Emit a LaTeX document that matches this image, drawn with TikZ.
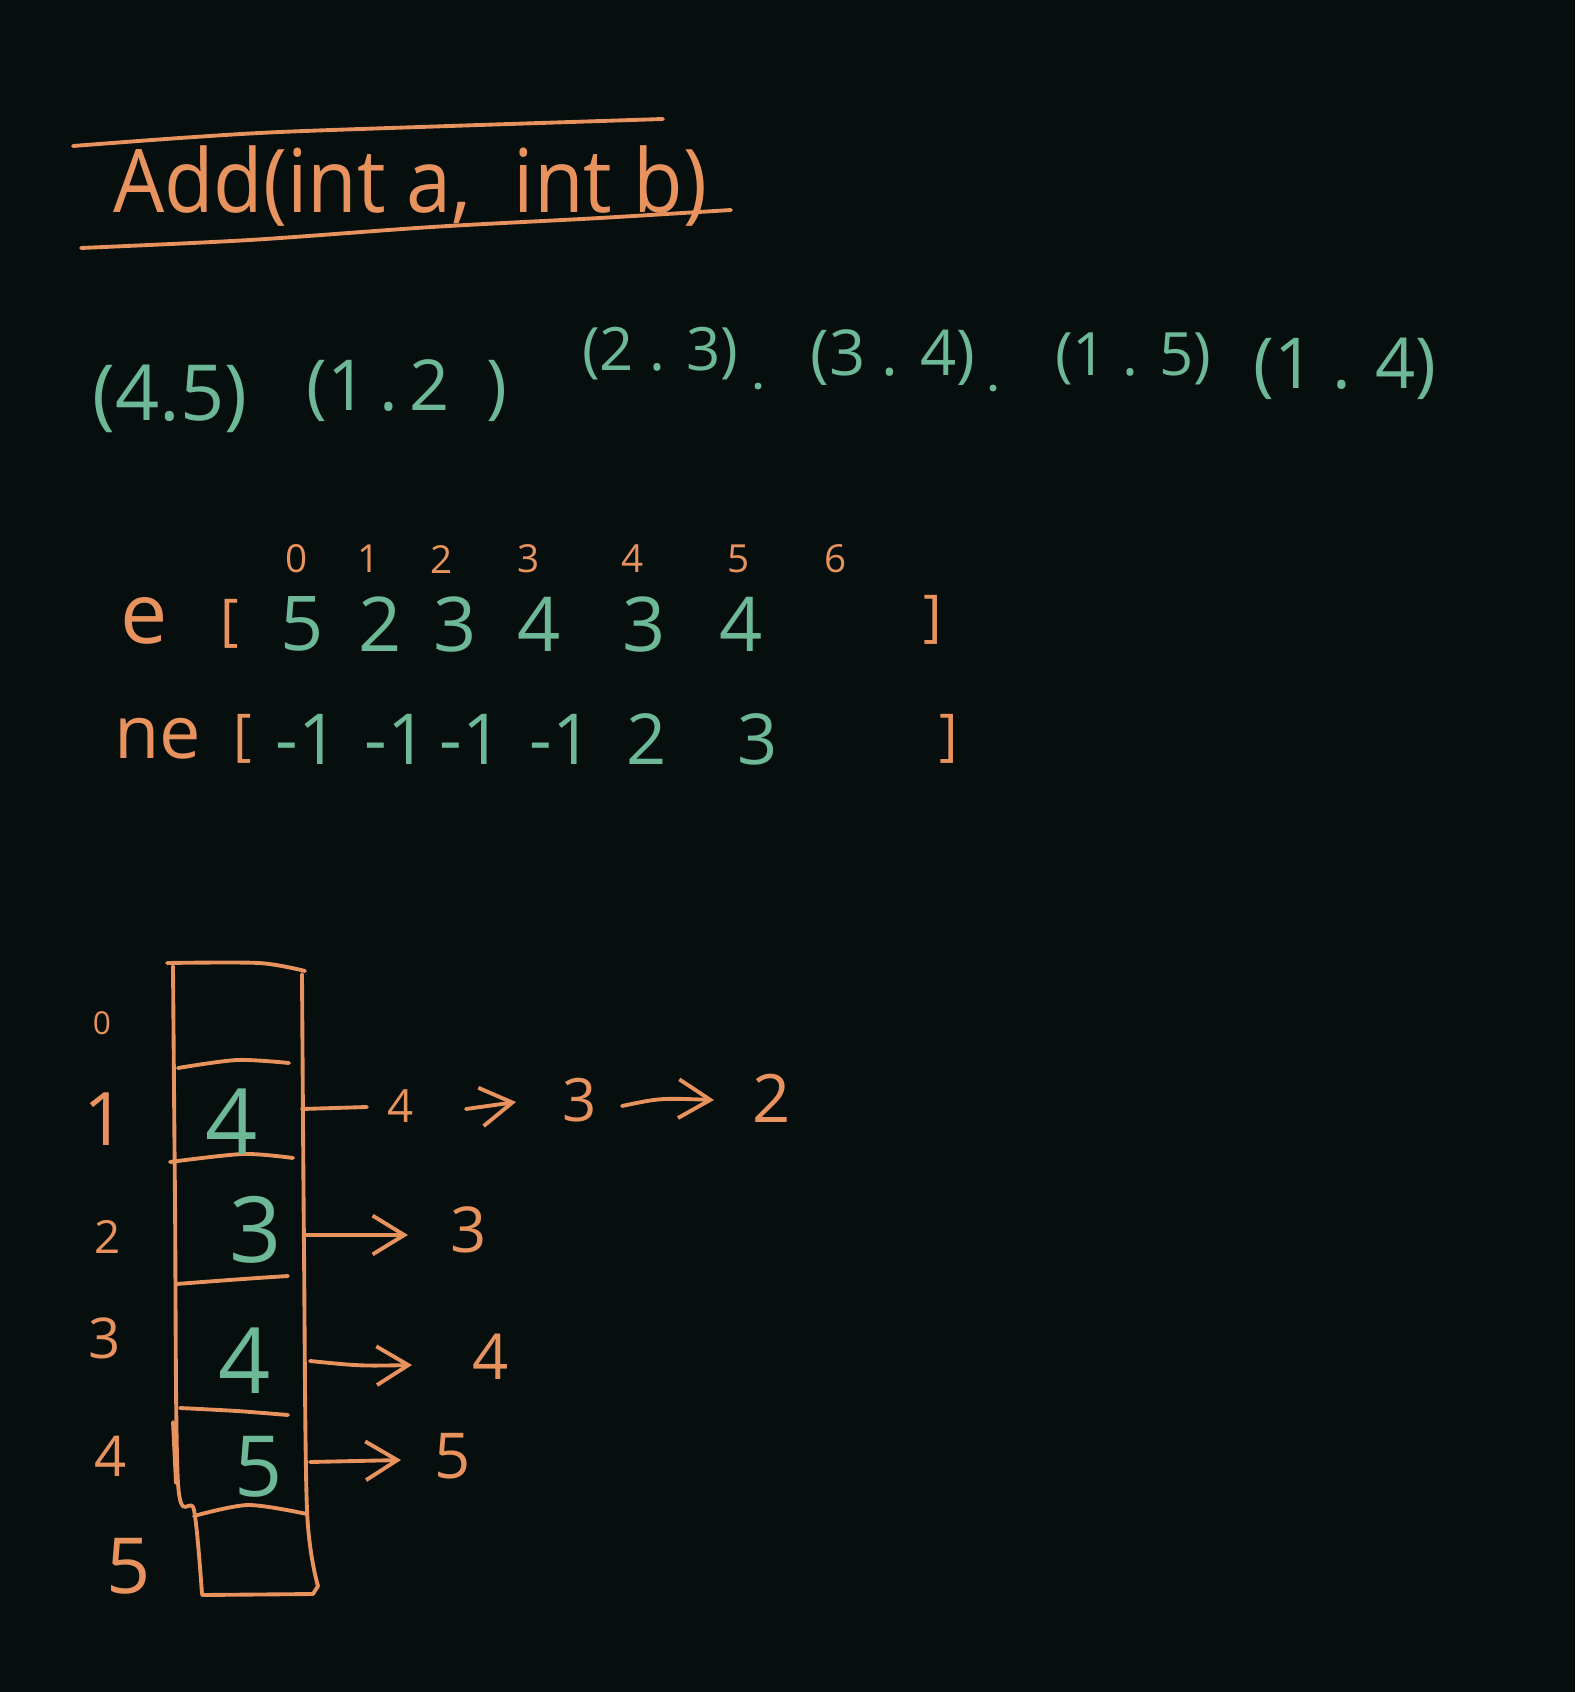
\documentclass[tikz,border=0pt]{standalone}
\usepackage{fontspec}
\setmainfont{Open Sans}
\usetikzlibrary{arrows.meta}
\definecolor{bg}{HTML}{060E0E}
\definecolor{ora}{HTML}{E8925E}
\definecolor{grn}{HTML}{6DB897}
\newcommand\fz[1]{\fontsize{#1}{#1}\selectfont}
\tikzset{
  ot/.style={text=ora, inner sep=0pt},
  gt/.style={text=grn, inner sep=0pt},
  ol/.style={draw=ora, line width=1.1pt, line cap=round, line join=round},
  harrow/.style={ol, -{Straight Barb[length=9pt,width=11pt,line width=1.1pt]}},
}
\begin{document}
\begin{tikzpicture}[x=0.01cm,y=-0.01cm]
\fill[bg] (0,0) rectangle (1575,1692);
\useasboundingbox (0,0) rectangle (1575,1692);

% title
\node[ot, font=\fz{25}] (title) at (410,186) {\scalebox{0.92}[1]{Add(int a,\ \ int b)}};
\draw[ol] plot[smooth] coordinates {(73,146) (180,138) (280,132) (450,126) (663,119)};
\draw[ol] plot[smooth] coordinates {(81,248) (250,240) (432,227) (600,218) (731,210)};

% pairs
\node[gt, font=\fz{22}] (p1) at (170,399) {(4.5)};
\node[gt, font=\fz{20}] (p2) at (407,391) {(1\,.\,2\ \ )};
\node[gt, font=\fz{17}] (p3) at (660,354) {(2 . 3)};
\fill[grn] (758,386) circle (3.5);
\node[gt, font=\fz{18}] (p4) at (893,358) {(3 . 4)};
\fill[grn] (993,388) circle (3.5);
\node[gt, font=\fz{17}] (p5) at (1133,359) {(1 . 5)};
\node[gt, font=\fz{20}] (p6) at (1345,369) {(1 . 4)};

% indices
\foreach \i/\x in {0/297,1/369,2/442,3/529,4/633,5/739,6/836}
  \node[ot, font=\fz{11}] (idx\i) at (\x,559) {\i};

% e row
\node[ot, font=\fz{24}] (elab) at (144,621) {e};
\node[ot, font=\fz{16}] (eopen) at (230,624) {[};
\foreach \v/\x [count=\k] in {5/302,2/380,3/455,4/539,3/644,4/741}
  \node[gt, font=\fz{21.5}] (e\k) at (\x,624) {\v};
\node[ot, font=\fz{16}] (eclose) at (933,620) {]};

% ne row
\node[ot, font=\fz{21}] (nelab) at (158,739) {ne};
\node[ot, font=\fz{16}] (neopen) at (243,739) {[};
\foreach \v/\x [count=\k] in {-1/307,-1/396,-1/471,-1/561,2/647,3/758}
  \node[gt, font=\fz{20}] (ne\k) at (\x,739) {\v};
\node[ot, font=\fz{16}] (neclose) at (949,739) {]};

% box
\draw[ol] plot[smooth] coordinates {(167,963) (259,963) (305,971)};
\draw[ol] plot[smooth] coordinates {(173,966) (175,1200) (178,1483) (194,1510) (202,1594)};
\draw[ol] plot[smooth] coordinates {(302,974) (304,1250) (307,1510) (318,1586)};
\draw[ol] (318,1586) -- (313,1594) -- (202,1595);
\draw[ol] plot[smooth] coordinates {(178,1068) (237,1060) (289,1063)};
\draw[ol] plot[smooth] coordinates {(170,1162) (243,1154) (293,1158)};
\draw[ol] plot[smooth] coordinates {(176,1284) (243,1279) (288,1276)};
\draw[ol] plot[smooth] coordinates {(180,1408) (237,1411) (288,1415)};
\draw[ol] plot[smooth] coordinates {(194,1516) (248,1505) (307,1514)};
\draw[ol] (173,1422) -- (176,1483);

% left labels
\node[ot, font=\fz{9}] (l0) at (102,1023) {0};
\node[ot, font=\fz{21}] (l1) at (105,1119) {1};
\node[ot, font=\fz{13}] (l2) at (108,1237) {2};
\node[ot, font=\fz{16}] (l3) at (105,1338) {3};
\node[ot, font=\fz{16}] (l4) at (111,1456) {4};
\node[ot, font=\fz{22}] (l5) at (129,1566) {5};

% box values
\node[gt, font=\fz{26}] (b1) at (232,1122) {4};
\node[gt, font=\fz{26}] (b2) at (256,1230) {3};
\node[gt, font=\fz{26}] (b3) at (245,1361) {4};
\node[gt, font=\fz{24}] (b4) at (259,1467) {5};

% chains
\node[ot, font=\fz{13}] (c11) at (401,1106) {4};
\node[ot, font=\fz{17}] (c12) at (580,1100) {3};
\node[ot, font=\fz{19}] (c13) at (772,1098) {2};
\node[ot, font=\fz{18}] (c21) at (469,1230) {3};
\node[ot, font=\fz{18}] (c31) at (491,1357) {4};
\node[ot, font=\fz{18}] (c41) at (453,1456) {5};

\coordinate (r1s) at (302,1109); \coordinate (r1e) at (367,1107);
\coordinate (a1s) at (466,1109); \coordinate (a1e) at (516,1102);
\coordinate (a2s) at (622,1106); \coordinate (a2e) at (714,1100);
\coordinate (r2s) at (307,1235); \coordinate (r2e) at (408,1235);
\coordinate (r3s) at (310,1361); \coordinate (r3e) at (412,1365);
\coordinate (r4s) at (310,1462); \coordinate (r4e) at (401,1460);

\draw[ol] (r1s) -- (r1e);
\draw[harrow] (a1s) -- (a1e);
\draw[harrow] (a2s) .. controls (660,1098) .. (a2e);
\draw[harrow] (r2s) -- (r2e);
\draw[harrow] (r3s) .. controls (360,1366) .. (r3e);
\draw[harrow] (r4s) -- (r4e);
\end{tikzpicture}
\end{document}
